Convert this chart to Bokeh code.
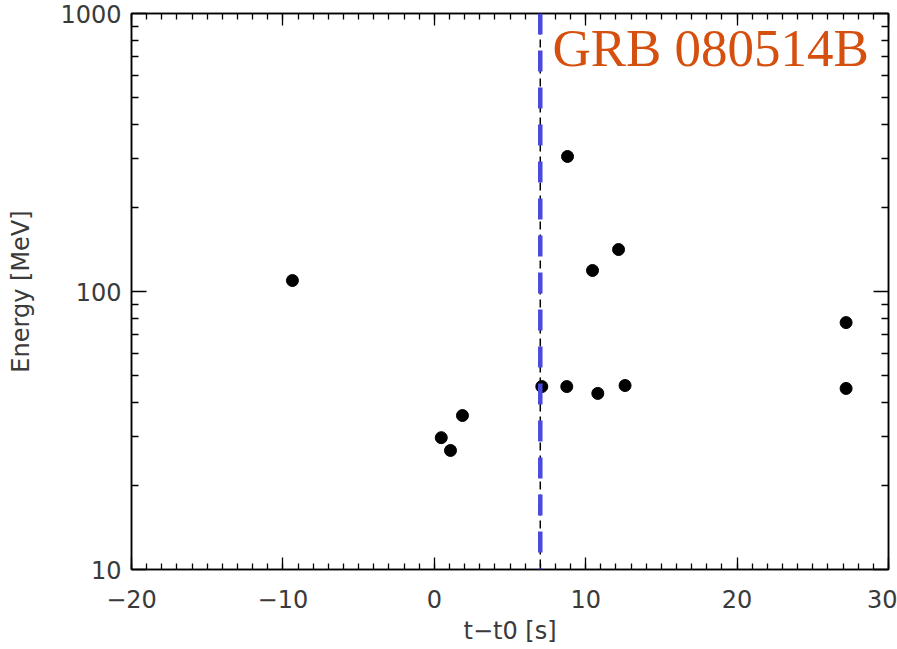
from bokeh.plotting import figure
from bokeh.models import (LinearAxis, LogAxis, Range1d, FixedTicker, Span, Label,
                          PrintfTickFormatter, ColumnDataSource)
from bokeh.embed import file_html
from bokeh.resources import INLINE

# ---- data ----
t_minus_t0 = [-9.37, 0.46, 1.07, 1.86, 7.1, 8.75, 8.8, 10.45, 10.8, 12.17, 12.6, 27.2, 27.2]
energy_mev = [109.5, 29.8, 26.8, 35.8, 45.5, 45.5, 306.0, 119.0, 43.0, 141.6, 45.9, 77.3, 44.8]
trigger_line_t = 7.0
title_text = "GRB 080514B"
x_label = "t\u2212t0 [s]"
y_label = "Energy [MeV]"
x_major = [-20, -10, 0, 10, 20, 30]
x_minor = list(range(-20, 31))
y_major = [10, 100, 1000]
y_minor = [20, 30, 40, 50, 60, 70, 80, 90, 200, 300, 400, 500, 600, 700, 800, 900]

TICK_FONT = "DejaVu Sans"
TICK_COLOR = "#3a3a3a"

p = figure(width=897, height=649, output_backend="svg", toolbar_location=None,
           y_axis_type="log", x_range=Range1d(-20, 30), y_range=Range1d(10, 1000),
           min_border_left=131, min_border_right=9, min_border_top=13, min_border_bottom=80,
           x_axis_location=None, y_axis_location=None)
p.grid.visible = False
p.outline_line_color = "black"
p.outline_line_width = 1.5
p.background_fill_color = "white"
p.border_fill_color = "white"

xt = FixedTicker(ticks=x_major, minor_ticks=x_minor)
yt = FixedTicker(ticks=y_major, minor_ticks=y_minor)

def style_axis(ax, major_in, minor_in, show_labels):
    ax.axis_line_color = "black"
    ax.axis_line_width = 1.5
    ax.major_tick_line_color = "black"
    ax.minor_tick_line_color = "black"
    ax.major_tick_line_width = 1.3
    ax.minor_tick_line_width = 1.3
    ax.major_tick_in = major_in
    ax.major_tick_out = 0
    ax.minor_tick_in = minor_in
    ax.minor_tick_out = 0
    ax.major_label_text_font = TICK_FONT
    ax.major_label_text_font_size = "24px"
    ax.major_label_text_color = TICK_COLOR
    if not show_labels:
        ax.major_label_text_alpha = 0
        ax.major_label_text_font_size = "1px"

xb = LinearAxis(ticker=xt, formatter=PrintfTickFormatter(format="%d"),
                major_label_overrides={-20: "\u221220", -10: "\u221210"})
style_axis(xb, 12, 6, True)
xb.major_label_standoff = 20
xb.axis_label = x_label
xb.axis_label_text_font = TICK_FONT
xb.axis_label_text_font_size = "24px"
xb.axis_label_text_font_style = "normal"
xb.axis_label_text_color = TICK_COLOR
xb.axis_label_standoff = 6
p.add_layout(xb, "below")

xa = LinearAxis(ticker=xt)
style_axis(xa, 12, 6, False)
p.add_layout(xa, "above")

yl = LogAxis(ticker=yt, formatter=PrintfTickFormatter(format="%d"))
style_axis(yl, 15, 7, True)
yl.major_label_standoff = 10
yl.axis_label = y_label
yl.axis_label_text_font = TICK_FONT
yl.axis_label_text_font_size = "24px"
yl.axis_label_text_font_style = "normal"
yl.axis_label_text_color = TICK_COLOR
yl.axis_label_standoff = 22
p.add_layout(yl, "left")

yr = LogAxis(ticker=yt)
style_axis(yr, 15, 7, False)
p.add_layout(yr, "right")

# trigger line: black thin dashed + blue thick dashed
p.add_layout(Span(location=trigger_line_t, dimension="height", line_color="black",
                  line_width=1.5, line_dash="8 5"))
p.add_layout(Span(location=trigger_line_t, dimension="height", line_color="#4a4adf",
                  line_width=4.5, line_dash="21 16", line_dash_offset=0))

src = ColumnDataSource(data=dict(t=t_minus_t0, e=energy_mev))
p.scatter("t", "e", source=src, size=12, color="black", marker="circle")

p.add_layout(Label(x=7.8, y=750, text=title_text, text_font="Liberation Serif",
                   text_font_size="53px", text_color="#d5500e",
                   text_baseline="alphabetic", text_align="left"))

open("out.html", "w").write(file_html(p, INLINE))
